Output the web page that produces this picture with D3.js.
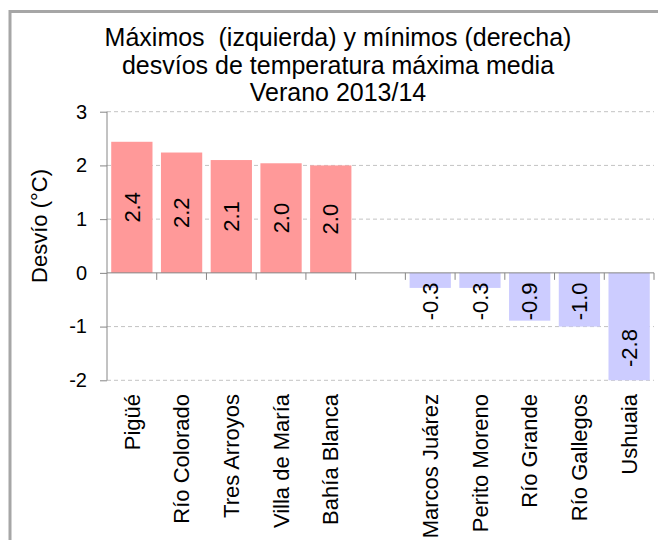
<!DOCTYPE html>
<html>
<head>
<meta charset="utf-8">
<script src="https://cdn.jsdelivr.net/npm/d3@7"></script>
<style>
  html, body { margin: 0; padding: 0; background: #fff; }
  svg { display: block; font-family: "Liberation Sans", Arial, sans-serif; }
</style>
</head>
<body>
<svg id="chart" width="658" height="540"></svg>
<script>
// ---- data ----
const titleLines = ["Máximos  (izquierda) y mínimos (derecha)", "desvíos de temperatura máxima media", "Verano 2013/14"];
const yAxisTitle = "Desvío (°C)";
const categories = ["Pigüé", "Río Colorado", "Tres Arroyos", "Villa de María", "Bahía Blanca", "", "Marcos Juárez", "Perito Moreno", "Río Grande", "Río Gallegos", "Ushuaia"];
const values = [2.44, 2.24, 2.10, 2.04, 2.00, null, -0.28, -0.28, -0.89, -1.00, -2.80];
const yTicks = [-2, -1, 0, 1, 2, 3];

// ---- layout ----
const svg = d3.select("#chart");
const pLeft = 107, pRight = 654, pTop = 111.7, pBottom = 380.3;
const hyphen = s => s.replace("\u2212", "-");

// frame
svg.append("rect").attr("x", 10).attr("y", 11.5).attr("width", 800).attr("height", 700)
  .attr("fill", "none").attr("stroke", "#a6a6a6").attr("stroke-width", 3);

const x = d3.scaleBand().domain(categories).range([pLeft, pRight]).paddingInner(0.17).paddingOuter(0.085);
const y = d3.scaleLinear().domain([d3.min(yTicks), d3.max(yTicks)]).range([pBottom, pTop]);
const step = x.step();

// gridlines (dashed)
svg.append("g").selectAll("line").data(yTicks.filter(t => t !== 0)).join("line")
  .attr("x1", pLeft).attr("x2", pRight)
  .attr("y1", d => y(d)).attr("y2", d => y(d))
  .attr("stroke", "#c3c3c3").attr("stroke-width", 1).attr("stroke-dasharray", "4,3");

// clip
svg.append("clipPath").attr("id", "plotclip").append("rect")
  .attr("x", pLeft).attr("y", pTop).attr("width", pRight - pLeft).attr("height", pBottom - pTop);

const data = categories.map((c, i) => ({ c, v: values[i] })).filter(d => d.v !== null);

// bars
svg.append("g").attr("clip-path", "url(#plotclip)").selectAll("rect").data(data).join("rect")
  .attr("x", d => x(d.c))
  .attr("width", x.bandwidth())
  .attr("y", d => Math.min(y(d.v), y(0)))
  .attr("height", d => Math.abs(y(d.v) - y(0)))
  .attr("fill", d => d.v >= 0 ? "#ff9999" : "#ccccff");

// y axis
const intFmt = d3.format("d");
const yAxis = d3.axisLeft(y).tickValues(yTicks).tickSize(7).tickPadding(13).tickFormat(d => hyphen(intFmt(d)));
const gy = svg.append("g").attr("transform", `translate(${pLeft},0)`).call(yAxis);
gy.select(".domain").attr("stroke", "#868686").attr("d", `M0,${pTop}V${pBottom}`);
gy.selectAll(".tick line").attr("stroke", "#868686");
gy.selectAll(".tick text").attr("font-size", 20).attr("fill", "#000")
  .attr("font-family", "Liberation Sans, Arial, sans-serif");

// zero line (x axis)
svg.append("line").attr("x1", pLeft).attr("x2", pRight).attr("y1", y(0)).attr("y2", y(0))
  .attr("stroke", "#868686").attr("stroke-width", 1);

// x ticks at category boundaries
const boundaries = d3.range(1, categories.length + 1).map(i => pLeft + i * step);
svg.append("g").selectAll("line").data(boundaries).join("line")
  .attr("x1", d => d).attr("x2", d => d)
  .attr("y1", y(0)).attr("y2", y(0) + 7)
  .attr("stroke", "#868686");

// value labels
const fmt = d3.format(".1f");
svg.append("g").selectAll("text").data(data).join("text")
  .attr("transform", d => {
    const cx = x(d.c) + x.bandwidth() / 2;
    let cy = y(d.v / 2);
    if (d.v < 0) cy = Math.max(cy, y(0) + 28.5);
    else cy = Math.min(cy, y(0) - 28.5);
    return `translate(${cx},${cy}) rotate(-90)`;
  })
  .attr("text-anchor", "middle").attr("dy", "0.35em")
  .attr("font-size", 22).attr("fill", "#000")
  .text(d => hyphen(fmt(d.v)));

// category labels
svg.append("g").selectAll("text").data(categories.filter(c => c !== "")).join("text")
  .attr("transform", c => `translate(${x(c) + x.bandwidth() / 2},394) rotate(-90)`)
  .attr("text-anchor", "end").attr("dy", "0.35em")
  .attr("font-size", 22).attr("fill", "#000")
  .text(c => c);

// y axis title
svg.append("text")
  .attr("transform", "translate(47,226) rotate(-90)")
  .attr("text-anchor", "middle")
  .attr("font-size", 22).attr("fill", "#000")
  .text(yAxisTitle);

// chart title
const baselines = [46, 73.5, 101];
svg.append("g").selectAll("text").data(titleLines).join("text")
  .attr("x", 338).attr("y", (d, i) => baselines[i])
  .attr("text-anchor", "middle")
  .attr("font-size", 25).attr("fill", "#000")
  .style("white-space", "pre")
  .text(d => d);
</script>
</body>
</html>
